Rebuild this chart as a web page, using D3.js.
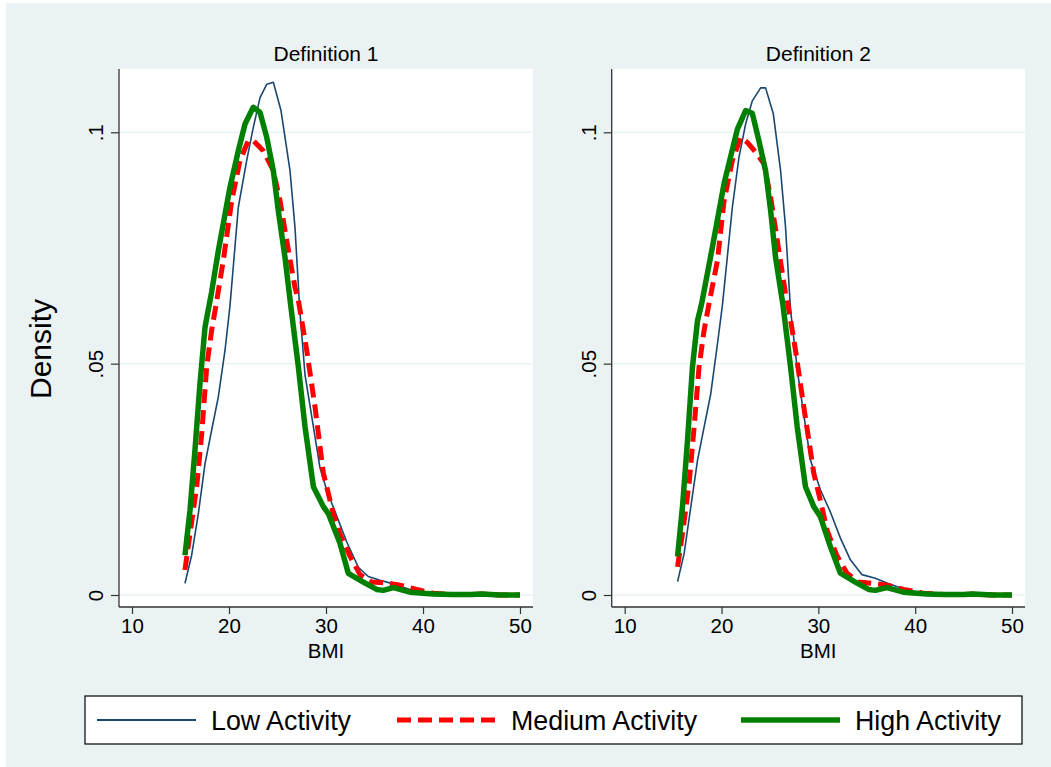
<!DOCTYPE html>
<html><head><meta charset="utf-8">
<script src="https://cdn.jsdelivr.net/npm/d3@7"></script>
<style>body{margin:0;background:#fff}svg{display:block;font-family:"Liberation Sans",Arial,sans-serif}</style>
</head><body><svg id="c" width="1051" height="767"></svg>
<script>
// ---------- data (BMI, density) ----------
const panels = ["Definition 1", "Definition 2"];
const seriesNames = ["Low Activity", "Medium Activity", "High Activity"];
const xTicks = [10, 20, 30, 40, 50];
const yTicks = [0, 0.05, 0.1];
const yTickLabels = ["0", ".05", ".1"];

const lowD1 = [[15.46,0.0025],[16.15,0.0086],[16.84,0.0176],[17.53,0.0284],[18.21,0.0356],[18.9,0.0428],[19.59,0.0529],[20.1,0.0625],[20.96,0.0838],[21.82,0.0939],[22.5,0.101],[23.2,0.1075],[23.9,0.1104],[24.57,0.1108],[25.36,0.1047],[26.29,0.0917],[26.8,0.0795],[27.3,0.0615],[27.84,0.0475],[28.52,0.0387],[29.38,0.0275],[30.07,0.0227],[31.1,0.0171],[32.13,0.0115],[33.33,0.006],[34.36,0.004],[35.57,0.0032],[36.94,0.0024],[38.66,0.0012],[40.38,0.0005],[42.8,0.0001],[45,0.0001],[46,0.0002],[48,0.0],[50,0.0]];
const medD1 = [[15.46,0.0054],[15.98,0.0133],[16.67,0.0234],[17.19,0.0349],[17.7,0.0493],[18.21,0.0572],[18.65,0.0625],[19.41,0.0723],[20.28,0.0852],[21.13,0.0939],[21.99,0.0982],[22.5,0.0982],[23.53,0.096],[24.57,0.0917],[25.26,0.0852],[25.95,0.0766],[26.8,0.0665],[27.15,0.0637],[28.01,0.0529],[28.87,0.0406],[29.73,0.0263],[30.75,0.0176],[31.44,0.0132],[32.47,0.0084],[33.5,0.0044],[34.7,0.0028],[36.26,0.0026],[37.63,0.0021],[39.35,0.0012],[41.06,0.0004],[43,0.0001],[45,0.0001],[46,0.0002],[48,0.0],[50,0.0]];
const highD1 = [[15.46,0.0086],[15.98,0.0183],[16.49,0.0313],[17.01,0.0457],[17.53,0.0579],[18.21,0.0655],[18.9,0.0744],[20.1,0.0881],[20.96,0.096],[21.65,0.1018],[22.5,0.1054],[23.2,0.1043],[23.89,0.0989],[24.57,0.0917],[25.08,0.0831],[25.77,0.073],[26.37,0.0625],[27.15,0.0493],[27.84,0.0363],[28.7,0.0234],[29.73,0.0191],[30.24,0.0176],[31.44,0.0112],[32.3,0.0047],[33.85,0.0028],[35.22,0.0012],[35.9,0.001],[36.94,0.0016],[38.66,0.0006],[41.06,0.0002],[43,0.0001],[45,0.0001],[46,0.0002],[48,0.0],[50,0.0]];

const lowD2 = [[15.46,0.0029],[16.14,0.009],[16.83,0.0191],[17.52,0.0291],[18.2,0.0363],[18.89,0.0435],[19.58,0.0543],[20.09,0.0626],[21.12,0.0838],[21.8,0.0946],[22.49,0.1018],[23.18,0.1068],[24.04,0.1096],[24.55,0.1096],[25.35,0.104],[26.1,0.0917],[26.61,0.0795],[27.13,0.0615],[27.9,0.0475],[29.19,0.0291],[30.22,0.0227],[31.25,0.0179],[32.28,0.0123],[33.31,0.0076],[34.51,0.0044],[35.88,0.0036],[37.09,0.0026],[38.8,0.0013],[40.52,0.0005],[42.8,0.0001],[45,0.0001],[46,0.0002],[48,0.0],[50,0.0]];
const medD2 = [[15.46,0.0061],[15.97,0.0133],[16.65,0.0241],[17.17,0.0363],[17.68,0.0493],[18.2,0.0572],[18.71,0.063],[19.58,0.0723],[20.26,0.0852],[21.12,0.0939],[21.98,0.0989],[22.67,0.0978],[23.52,0.0957],[24.38,0.0932],[25.07,0.086],[25.76,0.0766],[26.61,0.0651],[26.79,0.0637],[27.64,0.0529],[28.5,0.0406],[29.53,0.0263],[30.3,0.0196],[30.91,0.0139],[31.94,0.0084],[32.97,0.0047],[34.16,0.0028],[35.71,0.0025],[37.08,0.0021],[38.8,0.0012],[40.86,0.0004],[43,0.0001],[45,0.0001],[46,0.0002],[48,0.0],[50,0.0]];
const highD2 = [[15.46,0.0083],[15.97,0.0191],[16.49,0.0335],[17.0,0.0493],[17.52,0.0593],[17.95,0.063],[19.06,0.0752],[20.26,0.0889],[21.64,0.1007],[22.49,0.1047],[23.18,0.1041],[23.86,0.0982],[24.55,0.0917],[25.07,0.0831],[25.58,0.073],[26.35,0.0626],[27.13,0.0493],[27.82,0.0363],[28.67,0.0234],[29.53,0.0191],[30.22,0.0169],[31.25,0.0104],[32.28,0.0047],[33.82,0.0028],[35.19,0.0012],[35.88,0.001],[37.08,0.0016],[38.8,0.0006],[41.2,0.0002],[43,0.0001],[45,0.0001],[46,0.0002],[48,0.0],[50,0.0]];

const panelData = [[lowD1, medD1, highD1], [lowD2, medD2, highD2]];

// ---------- styles ----------
const colors = ["#1a476f", "#ff0000", "#008000"];
const widths = [1.6, 5, 5.5];
const dashes = [null, "14,7", null];
const bg = "#eaf2f3";

const svg = d3.select("#c");
svg.append("rect").attr("x",6).attr("y",3).attr("width",1045).attr("height",764).attr("fill",bg);

const plots = [{l:119, r:533}, {l:611.7, r:1025}];
const pTop = 69, pBottom = 607;
const y = d3.scaleLinear().domain([0, 0.1]).range([595, 132.3]);

plots.forEach((p, i) => {
  const x = d3.scaleLinear().domain([10, 50]).range([p.l + 13, p.r - 13]);
  const g = svg.append("g");
  g.append("rect").attr("x", p.l).attr("y", pTop).attr("width", p.r - p.l).attr("height", pBottom - pTop).attr("fill", "#fff");
  // gridlines
  g.selectAll(".grid").data(yTicks).enter().append("line")
    .attr("x1", p.l).attr("x2", p.r).attr("y1", d => y(d)).attr("y2", d => y(d))
    .attr("stroke", bg).attr("stroke-width", 1.5);
  // curves
  const line = d3.line().x(d => x(d[0])).y(d => y(d[1]));
  panelData[i].forEach((s, k) => {
    g.append("path").datum(s).attr("d", line).attr("fill", "none")
      .attr("stroke", colors[k]).attr("stroke-width", widths[k])
      .attr("stroke-linejoin", "round")
      .attr("stroke-dasharray", dashes[k]);
  });
  // x axis
  const xa = g.append("g").attr("transform", `translate(0,${pBottom})`)
    .call(d3.axisBottom(x).tickValues(xTicks).tickSize(7).tickSizeOuter(0).tickPadding(4));
  xa.select(".domain").attr("d", `M${p.l},0H${p.r}`);
  xa.selectAll("line").attr("stroke", "#333").attr("stroke-width", 1.2);
  xa.select(".domain").attr("stroke", "#333").attr("stroke-width", 1.3);
  xa.selectAll("text").attr("font-size", 20.5).attr("fill", "#000").attr("font-family", "Liberation Sans, Arial, sans-serif");
  // y axis
  const ya = g.append("g").attr("transform", `translate(${p.l},0)`)
    .call(d3.axisLeft(y).tickValues(yTicks).tickFormat((d, j) => yTickLabels[j]).tickSize(8).tickSizeOuter(0));
  ya.select(".domain").attr("d", `M0,${pTop}V${pBottom}`).attr("stroke", "#333").attr("stroke-width", 1.3);
  ya.selectAll("line").attr("stroke", "#333").attr("stroke-width", 1.2);
  ya.selectAll("text").attr("font-size", 20.5).attr("fill", "#000")
    .attr("font-family", "Liberation Sans, Arial, sans-serif")
    .attr("x", null).attr("dy", null)
    .attr("text-anchor", "middle")
    .attr("transform", "translate(-16,0) rotate(-90)");
  // subtitle
  svg.append("text").attr("x", (p.l + p.r) / 2).attr("y", 61).attr("text-anchor", "middle")
    .attr("font-size", 21).text(panels[i]);
  svg.append("text").attr("x", (p.l + p.r) / 2).attr("y", 658).attr("text-anchor", "middle")
    .attr("font-size", 20.5).text("BMI");
});

svg.append("text").attr("transform", "translate(51,349) rotate(-90)").attr("text-anchor", "middle")
  .attr("font-size", 30).text("Density");

// legend
const lg = svg.append("g");
lg.append("rect").attr("x", 85).attr("y", 696).attr("width", 937).attr("height", 48)
  .attr("fill", "#fff").attr("stroke", "#000").attr("stroke-width", 1.2);
const legX = [97, 397, 741];
seriesNames.forEach((n, k) => {
  lg.append("line").attr("x1", legX[k]).attr("x2", legX[k] + 99).attr("y1", 720).attr("y2", 720)
    .attr("stroke", colors[k]).attr("stroke-width", k === 0 ? 2 : widths[k]).attr("stroke-dasharray", dashes[k]);
  lg.append("text").attr("x", legX[k] + 114).attr("y", 729.5).attr("font-size", 26.8).text(n);
});
</script></body></html>
